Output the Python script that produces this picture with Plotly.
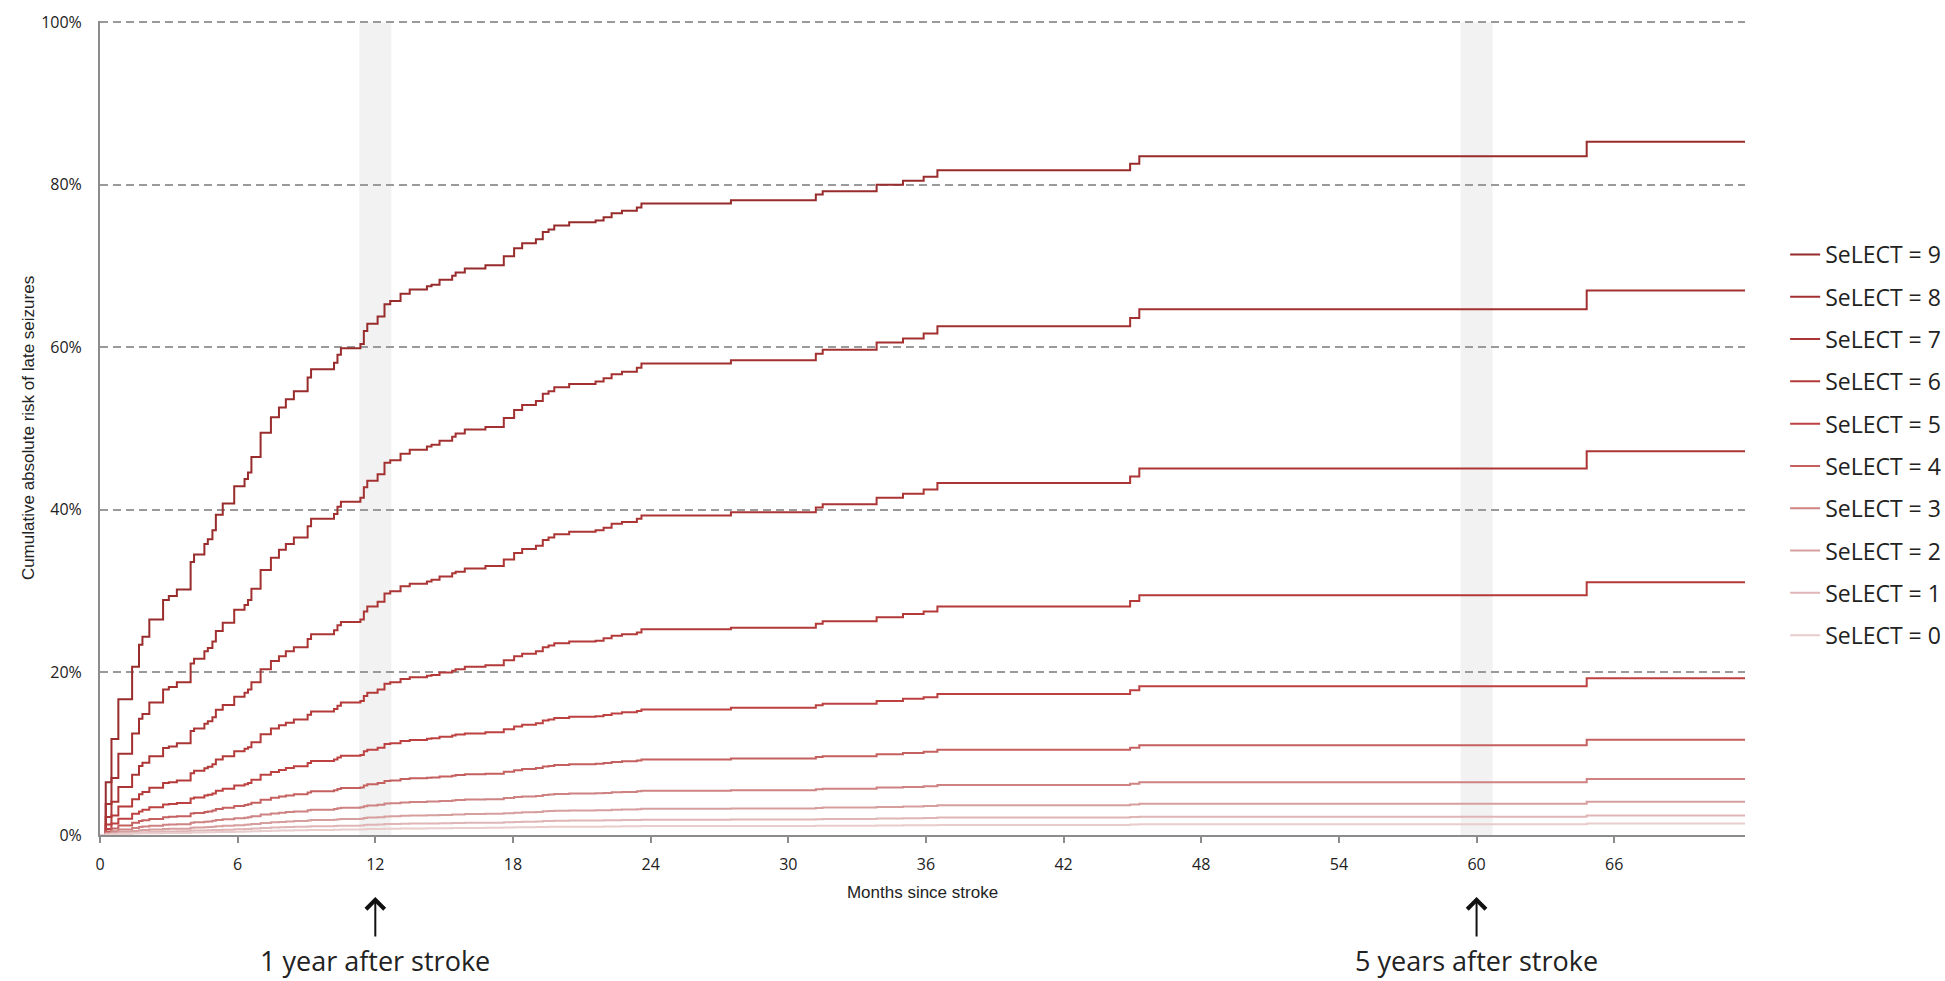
import plotly.graph_objects as go

# ---- data ----
months = [0, 0.25, 0.5, 0.8, 1.4, 1.7, 1.85, 2.15, 2.75, 3.0, 3.35, 3.95, 4.1, 4.55, 4.7, 4.9,
          5.05, 5.35, 5.85, 6.3, 6.45, 6.6, 7.0, 7.45, 7.8, 8.1, 8.45, 9.05, 9.2, 10.2, 10.35, 10.5,
          11.35, 11.5, 11.65, 12.1, 12.4, 12.65, 13.1, 13.5, 14.25, 14.45, 14.8, 15.35, 15.5, 15.9,
          16.8, 17.6, 18.05, 18.4, 19.0, 19.3, 19.55, 19.8, 20.45, 21.6, 21.95, 22.3, 22.75, 23.4,
          23.6, 27.5, 31.2, 31.5, 33.85, 35.0, 35.9, 36.5, 44.9, 45.3, 64.8, 71.7]

select_9 = [0, 6.5, 11.8, 16.7, 20.7, 23.4, 24.4, 26.5, 28.9, 29.4, 30.2, 33.6, 34.5, 35.8, 36.4, 37.5,
            39.4, 40.8, 42.9, 43.8, 44.6, 46.5, 49.5, 51.4, 52.6, 53.6, 54.6, 56.3, 57.3, 58.1, 59.1, 59.9,
            60.4, 62.0, 62.9, 63.8, 65.3, 65.7, 66.6, 67.1, 67.5, 67.7, 68.3, 68.8, 69.2, 69.7,
            70.1, 71.2, 72.2, 72.8, 73.3, 74.2, 74.5, 75.0, 75.4, 75.6, 76.0, 76.5, 76.8, 77.2,
            77.7, 78.1, 78.8, 79.2, 80.0, 80.5, 81.0, 81.8, 82.6, 83.5, 85.3, 85.3]
select_8 = [0, 3.8, 7.0, 10.0, 12.5, 14.3, 14.9, 16.3, 17.9, 18.2, 18.8, 21.1, 21.7, 22.6, 23.0, 23.8,
            25.1, 26.1, 27.7, 28.3, 28.9, 30.3, 32.6, 34.1, 35.1, 35.8, 36.6, 38.0, 38.9, 39.5, 40.4, 41.0,
            41.5, 42.8, 43.6, 44.4, 45.8, 46.1, 46.9, 47.4, 47.8, 48.0, 48.5, 49.0, 49.4, 49.9,
            50.2, 51.3, 52.3, 52.9, 53.4, 54.3, 54.6, 55.1, 55.5, 55.8, 56.2, 56.7, 57.0, 57.5,
            58.0, 58.4, 59.2, 59.7, 60.6, 61.1, 61.7, 62.6, 63.6, 64.7, 67.0, 67.0]
select_7 = [0, 2.2, 4.1, 5.9, 7.4, 8.5, 8.9, 9.7, 10.7, 10.9, 11.3, 12.8, 13.1, 13.7, 14.0, 14.5,
            15.4, 16.0, 17.0, 17.5, 17.9, 18.8, 20.4, 21.4, 22.0, 22.6, 23.1, 24.1, 24.7, 25.2, 25.8, 26.2,
            26.5, 27.5, 28.1, 28.7, 29.7, 30.0, 30.6, 30.9, 31.2, 31.4, 31.8, 32.2, 32.4, 32.8,
            33.1, 33.9, 34.7, 35.2, 35.6, 36.3, 36.6, 37.0, 37.3, 37.5, 37.8, 38.3, 38.5, 38.9,
            39.3, 39.7, 40.3, 40.7, 41.5, 42.0, 42.5, 43.3, 44.1, 45.1, 47.2, 47.2]
select_6 = [0, 1.3, 2.4, 3.5, 4.4, 5.0, 5.3, 5.8, 6.4, 6.5, 6.7, 7.6, 7.9, 8.2, 8.4, 8.7,
            9.3, 9.7, 10.3, 10.6, 10.8, 11.4, 12.4, 13.1, 13.5, 13.8, 14.2, 14.8, 15.2, 15.5, 15.9, 16.3,
            16.5, 17.1, 17.5, 17.9, 18.6, 18.8, 19.2, 19.4, 19.6, 19.7, 20.0, 20.2, 20.4, 20.7,
            20.9, 21.5, 22.0, 22.3, 22.6, 23.1, 23.3, 23.6, 23.8, 23.9, 24.2, 24.5, 24.7, 24.9,
            25.3, 25.5, 26.0, 26.3, 26.8, 27.2, 27.5, 28.1, 28.8, 29.5, 31.1, 31.1]
select_5 = [0, 0.75, 1.4, 2.0, 2.6, 2.9, 3.1, 3.4, 3.75, 3.8, 3.95, 4.5, 4.6, 4.85, 4.95, 5.1,
            5.45, 5.7, 6.1, 6.25, 6.4, 6.8, 7.4, 7.75, 8.0, 8.25, 8.45, 8.85, 9.1, 9.3, 9.55, 9.75,
            9.85, 10.3, 10.5, 10.75, 11.2, 11.3, 11.55, 11.7, 11.85, 11.9, 12.1, 12.25, 12.35, 12.5,
            12.65, 13.0, 13.35, 13.55, 13.75, 14.1, 14.2, 14.4, 14.55, 14.6, 14.75, 14.95, 15.1, 15.25,
            15.45, 15.65, 15.95, 16.15, 16.5, 16.75, 16.95, 17.35, 17.8, 18.3, 19.3, 19.3]
select_4 = [0, 0.44, 0.81, 1.18, 1.5, 1.72, 1.8, 1.98, 2.19, 2.24, 2.31, 2.63, 2.71, 2.84, 2.9, 3.01,
            3.2, 3.35, 3.58, 3.68, 3.77, 3.98, 4.34, 4.58, 4.74, 4.87, 5.0, 5.24, 5.38, 5.5, 5.65, 5.77,
            5.84, 6.1, 6.24, 6.39, 6.65, 6.72, 6.88, 6.97, 7.04, 7.08, 7.2, 7.29, 7.37, 7.47,
            7.55, 7.77, 7.98, 8.11, 8.23, 8.43, 8.5, 8.62, 8.71, 8.76, 8.86, 8.98, 9.06, 9.16,
            9.29, 9.4, 9.59, 9.7, 9.93, 10.08, 10.23, 10.48, 10.75, 11.05, 11.72, 11.72]
select_3 = [0, 0.25, 0.47, 0.68, 0.86, 0.99, 1.04, 1.14, 1.26, 1.29, 1.33, 1.52, 1.57, 1.64, 1.67, 1.74,
            1.85, 1.94, 2.07, 2.13, 2.18, 2.31, 2.52, 2.65, 2.75, 2.82, 2.9, 3.04, 3.12, 3.19, 3.28, 3.35,
            3.4, 3.55, 3.63, 3.72, 3.87, 3.91, 4.01, 4.06, 4.11, 4.13, 4.19, 4.25, 4.3, 4.36,
            4.4, 4.54, 4.66, 4.74, 4.81, 4.93, 4.97, 5.04, 5.1, 5.13, 5.18, 5.26, 5.3, 5.37,
            5.44, 5.51, 5.62, 5.69, 5.83, 5.92, 6.01, 6.16, 6.31, 6.5, 6.9, 6.9]
select_2 = [0, 0.15, 0.27, 0.4, 0.5, 0.58, 0.61, 0.67, 0.74, 0.76, 0.78, 0.89, 0.92, 0.96, 0.98, 1.02,
            1.09, 1.14, 1.21, 1.25, 1.28, 1.35, 1.48, 1.56, 1.61, 1.66, 1.71, 1.79, 1.84, 1.88, 1.93, 1.97,
            2.0, 2.09, 2.14, 2.19, 2.28, 2.31, 2.36, 2.39, 2.42, 2.43, 2.47, 2.51, 2.53, 2.57,
            2.6, 2.68, 2.75, 2.8, 2.84, 2.91, 2.94, 2.98, 3.01, 3.03, 3.06, 3.11, 3.13, 3.17,
            3.22, 3.26, 3.33, 3.37, 3.45, 3.5, 3.56, 3.65, 3.74, 3.85, 4.09, 4.09]
select_1 = [0, 0.085, 0.16, 0.23, 0.29, 0.34, 0.35, 0.39, 0.43, 0.44, 0.46, 0.52, 0.54, 0.56, 0.57, 0.6,
            0.63, 0.66, 0.71, 0.73, 0.75, 0.79, 0.86, 0.91, 0.94, 0.97, 1.0, 1.05, 1.07, 1.1, 1.13, 1.15,
            1.17, 1.22, 1.25, 1.28, 1.34, 1.35, 1.38, 1.4, 1.42, 1.42, 1.45, 1.47, 1.48, 1.5,
            1.52, 1.57, 1.61, 1.64, 1.66, 1.71, 1.72, 1.75, 1.77, 1.78, 1.8, 1.82, 1.84, 1.86,
            1.89, 1.91, 1.95, 1.97, 2.02, 2.05, 2.09, 2.14, 2.2, 2.26, 2.41, 2.41]
select_0 = [0, 0.05, 0.09, 0.13, 0.17, 0.2, 0.21, 0.23, 0.25, 0.26, 0.26, 0.3, 0.31, 0.33, 0.33, 0.34,
            0.37, 0.38, 0.41, 0.42, 0.43, 0.46, 0.5, 0.53, 0.55, 0.56, 0.58, 0.61, 0.62, 0.64, 0.65, 0.67,
            0.68, 0.71, 0.73, 0.74, 0.77, 0.78, 0.8, 0.81, 0.82, 0.83, 0.84, 0.85, 0.86, 0.87,
            0.88, 0.91, 0.94, 0.95, 0.97, 0.99, 1.0, 1.01, 1.03, 1.03, 1.04, 1.06, 1.07, 1.08,
            1.1, 1.11, 1.13, 1.15, 1.18, 1.19, 1.21, 1.24, 1.28, 1.32, 1.4, 1.4]

series_names = ["SeLECT = 9", "SeLECT = 8", "SeLECT = 7", "SeLECT = 6", "SeLECT = 5",
                "SeLECT = 4", "SeLECT = 3", "SeLECT = 2", "SeLECT = 1", "SeLECT = 0"]
series_values = [select_9, select_8, select_7, select_6, select_5,
                 select_4, select_3, select_2, select_1, select_0]
series_colors = ["#982b2b", "#a33030", "#ab3434", "#b43939", "#bd4141",
                 "#c56060", "#ce8282", "#d79e9e", "#e0b5b5", "#e9cccc"]

x_ticks = [0, 6, 12, 18, 24, 30, 36, 42, 48, 54, 60, 66]
y_ticks = [0, 20, 40, 60, 80, 100]
y_tick_text = ["0%", "20%", "40%", "60%", "80%", "100%"]
milestones = [12, 60]
milestone_labels = ["1 year after stroke", "5 years after stroke"]

# ---- figure ----
fig = go.Figure()
for name, vals, col in zip(series_names, series_values, series_colors):
    fig.add_trace(go.Scatter(
        x=months, y=vals, mode="lines", name=name, legendgroup=name,
        line=dict(color=col, width=2, shape="hv"), hoverinfo="skip"))

for m in milestones:
    fig.add_shape(type="rect", xref="x", yref="y", x0=m - 0.7, x1=m + 0.7, y0=0, y1=100,
                  fillcolor="#f2f2f2", line=dict(width=0), layer="below")

PLOT_TOP, PLOT_BOTTOM = 21, 835
H = PLOT_BOTTOM - PLOT_TOP
def py(p):
    return (PLOT_BOTTOM - p) / H

for m, lab in zip(milestones, milestone_labels):
    fig.add_annotation(x=m, xref="x", y=py(897), yref="paper", text="", showarrow=True,
                       ax=0, ay=41, arrowhead=4, arrowsize=1.8, arrowwidth=2, arrowcolor="#111111",
                       font=dict(size=1))
    fig.add_annotation(x=m, xref="x", y=py(960), yref="paper", text=lab, showarrow=False,
                       xanchor="center", yanchor="middle",
                       font=dict(family="Open Sans", size=27, color="#222222"))

fig.update_layout(
    width=1945, height=981,
    margin=dict(l=100, r=200, t=PLOT_TOP, b=981 - PLOT_BOTTOM, autoexpand=False),
    paper_bgcolor="white", plot_bgcolor="white",
    font=dict(family="Open Sans", color="#222222"),
    showlegend=True,
    legend=dict(x=1.0244, xanchor="left", y=py(233), yanchor="top",
                font=dict(family="Open Sans", size=23, color="#222222"),
                traceorder="grouped", tracegroupgap=9.4, bgcolor="rgba(0,0,0,0)"),
    xaxis=dict(range=[0, 71.7], tickvals=x_ticks, showgrid=False, zeroline=False,
               showline=True, linecolor="#8c8c8c", linewidth=2,
               ticks="outside", ticklen=6, tickwidth=1.5, tickcolor="#8c8c8c",
               tickfont=dict(family="Open Sans", size=16, color="#222222"),
               ticklabelstandoff=8,
               title=dict(text="Months since stroke", standoff=12,
                          font=dict(family="Liberation Sans, Arial", size=17, color="#222222"))),
    yaxis=dict(range=[0, 100.15], tickvals=y_ticks, ticktext=y_tick_text, showgrid=True,
               gridcolor="#9a9a9a", gridwidth=1.5, griddash="8px,5px", zeroline=False,
               showline=True, linecolor="#8c8c8c", linewidth=2, ticks="",
               tickfont=dict(family="Open Sans", size=16, color="#222222"),
               ticklabelstandoff=13,
               title=dict(text="Cumulative absolute risk of late seizures", standoff=2,
                          font=dict(family="Liberation Sans, Arial", size=17, color="#222222"))),
)

fig.write_html("out.html")
